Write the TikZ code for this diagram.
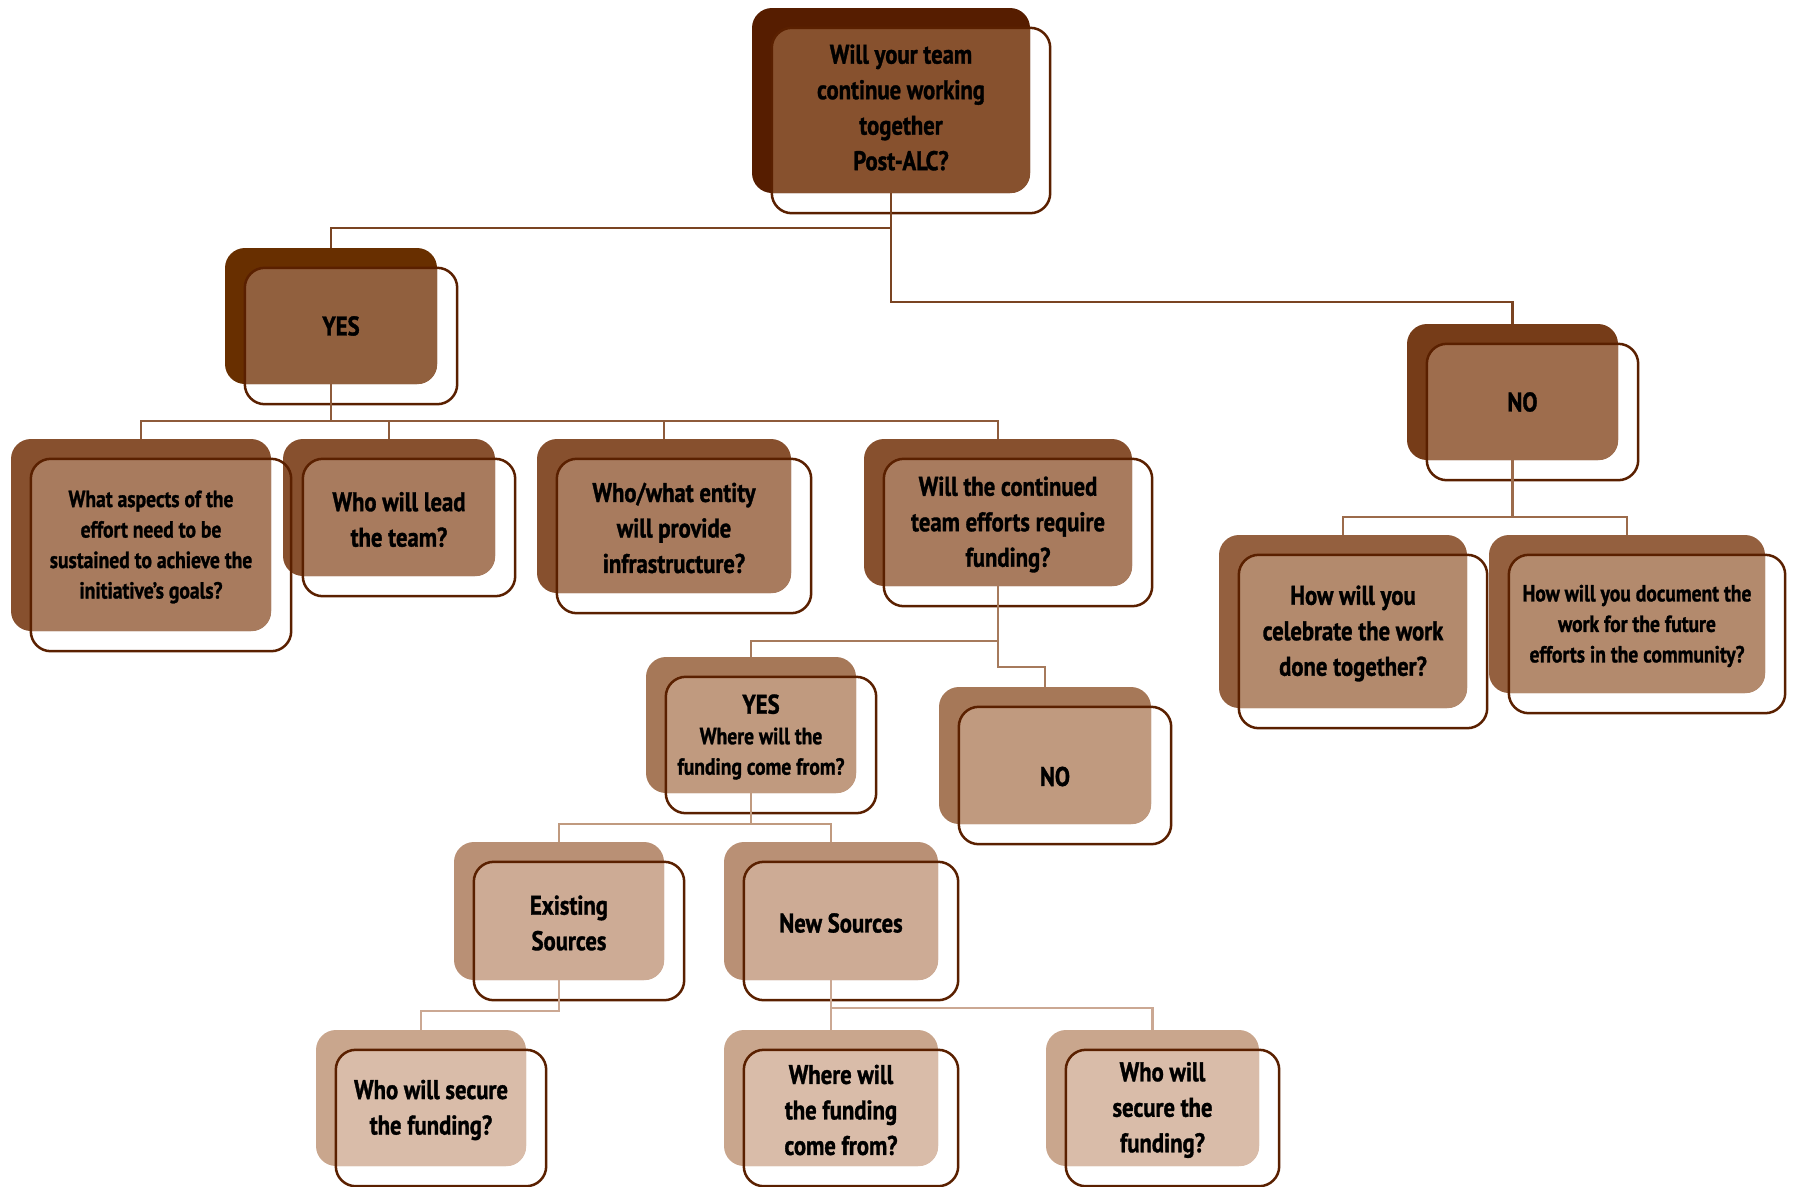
\documentclass[tikz,border=0pt]{standalone}
\usepackage{fontspec}
\setmainfont{PT Sans}[FakeStretch=0.84, BoldFeatures={FakeBold=1.2}]
\usepackage{tikz}
\usetikzlibrary{positioning, calc}

% fills per level (dark back / lighter overlap)
\definecolor{dark0}{HTML}{561D00}\definecolor{light0}{HTML}{87512E}
\definecolor{dark1}{HTML}{682F00}\definecolor{light1}{HTML}{91603E}
\definecolor{dark2}{HTML}{763C18}\definecolor{light2}{HTML}{9E6D4D}
\definecolor{dark3}{HTML}{87502E}\definecolor{light3}{HTML}{A87B5E}
\definecolor{dark4}{HTML}{94603F}\definecolor{light4}{HTML}{B38A6D}
\definecolor{dark5}{HTML}{A67858}\definecolor{light5}{HTML}{C09A7F}
\definecolor{dark6}{HTML}{B99075}\definecolor{light6}{HTML}{CDAB95}
\definecolor{dark7}{HTML}{C9A68D}\definecolor{light7}{HTML}{D9BCA9}
\definecolor{edge}{HTML}{5A2000}
% connectors
\definecolor{link0}{HTML}{7A4422}
\definecolor{link1}{HTML}{8E5B3B}
\definecolor{link2}{HTML}{9C6B4B}
\definecolor{link3}{HTML}{A67A5C}
\definecolor{link4}{HTML}{C09A7F}
\definecolor{link5}{HTML}{CBA893}

\tikzset{
  boxline/.style={draw=edge, line width=2.5pt, rounded corners=20pt},
  qtext/.style={align=center, inner sep=0pt, text=black},
  conn/.style={line width=2.2pt}
}

\newcommand{\qlarge}{\fontsize{27}{35.5}\selectfont\bfseries}
\newcommand{\qsmall}{\fontsize{23.3}{30.5}\selectfont\bfseries}

% [#1 text drop], #2 name, #3 level, #4 centre, #5 width, #6 height, #7 font, #8 text
\newcommand{\qbox}[8][0]{%
  \node[fill=dark#3, rounded corners=20pt, minimum width=#5pt, minimum height=#6pt, inner sep=0pt] (#2) at (#4) {};
  \begin{scope}
    \clip[rounded corners=20pt] ([shift={(20,20)}]#2.north west) rectangle ([shift={(20,20)}]#2.south east);
    \fill[light#3, rounded corners=20pt] (#2.north west) rectangle (#2.south east);
  \end{scope}
  \draw[boxline] ([shift={(20,20)}]#2.north west) rectangle ([shift={(20,20)}]#2.south east);
  \node[qtext, font=#7] (#2-t) at ([shift={(10,12+#1)}]#2.center) {#8};
}

\begin{document}
\begin{tikzpicture}[x=1pt, y=-1pt]
\useasboundingbox (0,0) rectangle (1796,1186);

% Top question
\qbox[-5]{q}{0}{891,100.5}{278}{185}{\qlarge}{Will your team\\continue working\\together\\Post-ALC?}

% YES / NO
\qbox[-2]{yes}{1}{331,316}{212}{136}{\qlarge}{YES}
\qbox[-2]{no}{2}{1512.5,392}{211}{136}{\qlarge}{NO}

% YES branch
\qbox{fund}{3}{998,512.5}{268}{147}{\qlarge}{Will the continued\\team efforts require\\funding?}
\qbox{infra}{3}{664,516}{254}{154}{\qlarge}{Who/what entity\\will provide\\infrastructure?}
\qbox{lead}{3}{389,507.5}{212}{137}{\qlarge}{Who will lead\\the team?}
\qbox{aspects}{3}{141,535}{260}{192}{\qsmall}{What aspects of the\\effort need to be\\sustained to achieve the\\initiative’s goals?}

% NO branch
\qbox{document}{4}{1627,614}{276}{158}{\qsmall}{How will you document the\\work for the future\\efforts in the community?}
\qbox{celebrate}{4}{1343,621.5}{248}{173}{\qlarge}{How will you\\celebrate the work\\done together?}

% funding
\qbox{fyes}{5}{751,725}{210}{136}{\qsmall}{{\qlarge YES}\\Where will the\\funding come from?}
\qbox[9]{fno}{5}{1045,755.5}{212}{137}{\qlarge}{NO}

% sources
\qbox{existing}{6}{559,911}{210}{138}{\qlarge}{Existing\\Sources}
\qbox{newsrc}{6}{831,911}{214}{138}{\qlarge}{New Sources}

% bottom row
\qbox{secureA}{7}{421,1098}{210}{136}{\qlarge}{Who will secure\\the funding?}
\qbox{where}{7}{831,1098}{214}{136}{\qlarge}{Where will\\the funding\\come from?}
\qbox{secureB}{7}{1152.5,1098}{213}{136}{\qlarge}{Who will\\secure the\\funding?}

% connectors
\draw[conn, link0] (q.south) -- ++(0,35) -| (yes.north);
\draw[conn, link0] (q.south) -- ++(0,109) -| (no.north);
\foreach \c in {aspects,lead,infra,fund}
    \draw[conn, link1] (yes.south) -- ++(0,37) -| (\c.north);
\foreach \c in {celebrate,document}
    \draw[conn, link2] (no.south) -- ++(0,57) -| (\c.north);
\draw[conn, link3] (fund.south) -- ++(0,55) -| (fyes.north);
\draw[conn, link3] (fund.south) -- ++(0,81) -| (fno.north);
\foreach \c in {existing,newsrc}
    \draw[conn, link4] (fyes.south) -- ++(0,31) -| (\c.north);
\draw[conn, link5] (existing.south) -- ++(0,31) -| (secureA.north);
\draw[conn, link5] (newsrc.south) -- (where.north);
\draw[conn, link5] (newsrc.south) -- ++(0,28) -| (secureB.north);
\end{tikzpicture}
\end{document}
